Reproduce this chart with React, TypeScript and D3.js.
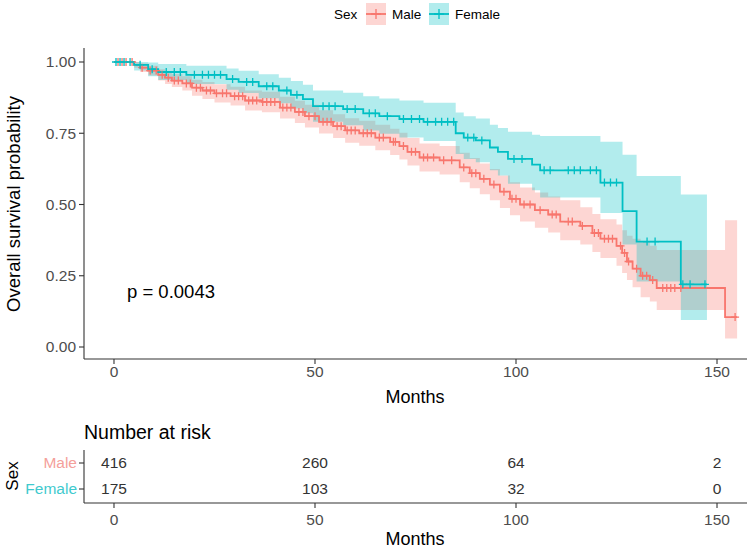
import * as d3 from 'd3';
import React from 'react';

// Kaplan-Meier estimates (months, survival, CI)
const maleTime = [0, 5, 6.5, 8.5, 11, 12.7, 14.4, 17, 19.4, 22, 25, 29, 32.6, 36.8, 41.3, 45, 47.5, 51, 54.5, 57.5, 61, 65, 68.7, 71, 73, 76, 81, 86, 88.5, 91, 93.5, 96, 98.5, 101, 104.7, 108, 111, 116, 119, 121, 125, 126.4, 127.6, 129, 131, 133.3, 135, 152];
const maleSurv = [1, 0.99, 0.98, 0.97, 0.955, 0.945, 0.935, 0.925, 0.91, 0.9, 0.89, 0.88, 0.865, 0.86, 0.84, 0.825, 0.81, 0.79, 0.775, 0.76, 0.75, 0.735, 0.72, 0.705, 0.685, 0.665, 0.655, 0.63, 0.61, 0.59, 0.57, 0.545, 0.52, 0.5, 0.48, 0.465, 0.44, 0.425, 0.4, 0.38, 0.355, 0.33, 0.3, 0.275, 0.25, 0.235, 0.207, 0.105];
const maleLower = [1, 0.98, 0.965, 0.953, 0.935, 0.923, 0.912, 0.9, 0.882, 0.87, 0.858, 0.847, 0.83, 0.824, 0.802, 0.786, 0.77, 0.749, 0.733, 0.717, 0.706, 0.69, 0.674, 0.658, 0.637, 0.616, 0.605, 0.578, 0.557, 0.536, 0.515, 0.488, 0.462, 0.44, 0.418, 0.402, 0.375, 0.36, 0.333, 0.312, 0.285, 0.26, 0.235, 0.21, 0.175, 0.16, 0.13, 0.03];
const maleUpper = [1, 1, 0.995, 0.987, 0.975, 0.967, 0.958, 0.95, 0.938, 0.93, 0.922, 0.913, 0.9, 0.896, 0.878, 0.864, 0.85, 0.831, 0.817, 0.803, 0.794, 0.78, 0.766, 0.752, 0.733, 0.714, 0.705, 0.682, 0.663, 0.644, 0.625, 0.602, 0.578, 0.56, 0.542, 0.528, 0.515, 0.49, 0.467, 0.448, 0.43, 0.41, 0.39, 0.38, 0.37, 0.355, 0.34, 0.445];
const maleEnd = 155;
const maleCensor = [1, 2, 3, 4.5, 7, 9, 10.5, 12, 13.5, 15, 16, 18, 19, 20.5, 21.5, 23, 24, 25.5, 27, 28, 30, 31, 32, 33.5, 34.5, 35.5, 37, 38, 39, 40, 42, 43, 44, 46, 47, 48.5, 50, 52, 53, 54, 55.5, 56.5, 58, 59, 60, 62, 63, 64, 66, 67, 69.5, 70, 72, 74, 75, 77, 78, 79.5, 82, 84, 87, 89, 90, 92, 94.5, 97, 99, 100, 102, 103.5, 106, 109, 110, 113, 114, 116.5, 119.5, 120.5, 122, 123, 124, 126, 127, 128, 130, 131.5, 132.5, 134, 136.5, 137.5, 138.5, 139.5, 141, 154.5];

const femaleTime = [0, 5, 8.5, 11, 18, 28, 31, 36, 41, 44, 47, 49.5, 57, 62, 66, 71, 77, 85, 87, 90, 93.5, 95.5, 98, 104, 106, 121, 126.5, 130, 141];
const femaleSurv = [1, 0.99, 0.975, 0.965, 0.955, 0.94, 0.93, 0.915, 0.9, 0.885, 0.87, 0.845, 0.835, 0.82, 0.81, 0.8, 0.79, 0.75, 0.735, 0.725, 0.7, 0.685, 0.66, 0.64, 0.62, 0.577, 0.477, 0.37, 0.22];
const femaleLower = [1, 0.97, 0.95, 0.937, 0.923, 0.903, 0.891, 0.873, 0.855, 0.837, 0.82, 0.79, 0.778, 0.76, 0.748, 0.735, 0.723, 0.677, 0.66, 0.648, 0.62, 0.602, 0.573, 0.55, 0.525, 0.47, 0.36, 0.23, 0.095];
const femaleUpper = [1, 1, 0.998, 0.993, 0.987, 0.977, 0.969, 0.957, 0.945, 0.933, 0.92, 0.9, 0.892, 0.88, 0.872, 0.865, 0.857, 0.823, 0.81, 0.802, 0.78, 0.768, 0.755, 0.745, 0.74, 0.72, 0.675, 0.6, 0.535];
const femaleEnd = 147.5;
const femaleCensor = [0.5, 1.5, 2.5, 4, 6.5, 9.5, 13, 15, 16.5, 20, 22, 23.5, 25, 26.5, 29.5, 33, 34.5, 38, 39.5, 43, 45.5, 52, 53.5, 55, 58, 60, 63.5, 65, 68, 72, 74, 76, 78, 80, 81.5, 83, 84.5, 88, 89.5, 91.5, 99.5, 101.5, 107, 108.5, 113, 114.5, 116, 118.5, 120, 122, 123.5, 125, 132.6, 134.6, 141.5, 143.3, 147];

const riskTimes = [0, 50, 100, 150];
const maleRisk = [416, 260, 64, 2];
const femaleRisk = [175, 103, 32, 0];

const xTicks = [0, 50, 100, 150];
const yTicks = [0, 0.25, 0.5, 0.75, 1];
const groups = ['Male', 'Female'];
const pText = 'p = 0.0043';

const RED = '#F8766D';
const TEAL = '#00BFC4';
const FONT = '"Liberation Sans", Arial, Helvetica, sans-serif';

const series = [
  { name: 'Male', color: RED, time: maleTime, surv: maleSurv, lower: maleLower, upper: maleUpper, end: maleEnd, censor: maleCensor },
  { name: 'Female', color: TEAL, time: femaleTime, surv: femaleSurv, lower: femaleLower, upper: femaleUpper, end: femaleEnd, censor: femaleCensor },
];

const x = d3.scaleLinear().domain([-7.46, 157.46]).range([84, 747]);
const y = d3.scaleLinear().domain([0, 1]).range([347, 62]);

type Pt = { t: number; s: number; lo: number; hi: number };

function points(sr: typeof series[number]): Pt[] {
  const pts = sr.time.map((t, i) => ({ t, s: sr.surv[i], lo: sr.lower[i], hi: sr.upper[i] }));
  const last = pts[pts.length - 1];
  pts.push({ ...last, t: sr.end });
  return pts;
}

function survAt(times: number[], surv: number[], t: number) {
  const i = d3.bisectRight(times, t) - 1;
  return surv[Math.max(0, i)];
}

const line = d3.line<Pt>().x((d) => x(d.t)).y((d) => y(d.s)).curve(d3.curveStepAfter);
const band = d3.area<Pt>().x((d) => x(d.t)).y0((d) => y(d.lo)).y1((d) => y(d.hi)).curve(d3.curveStepAfter);

const Plus = ({ cx, cy, color, r = 4 }: { cx: number; cy: number; color: string; r?: number }) => (
  <path d={`M${cx - r},${cy}H${cx + r}M${cx},${cy - r}V${cy + r}`} stroke={color} strokeWidth={1.3} fill="none" />
);

export default function App() {
  const rowY = d3.scalePoint<string>().domain(groups).range([463, 489]);
  const legendItems = [
    { name: 'Male', color: RED, kx: 366, tx: 392 },
    { name: 'Female', color: TEAL, kx: 429, tx: 455 },
  ];
  return (
    <svg width={750} height={549} style={{ position: 'absolute', left: 0, top: 0, background: '#fff' }} fontFamily={FONT}>
      {/* legend */}
      <text x={334} y={19} fontSize={13.5} fill="#000">Sex</text>
      {legendItems.map((it) => (
        <g key={it.name}>
          <rect x={it.kx} y={3} width={20} height={22} fill={it.color} fillOpacity={0.3} />
          <line x1={it.kx} x2={it.kx + 20} y1={14} y2={14} stroke={it.color} strokeWidth={1.8} />
          <Plus cx={it.kx + 10} cy={14} color={it.color} r={5} />
          <text x={it.tx} y={19} fontSize={13.5} fill="#000">{it.name}</text>
        </g>
      ))}

      {/* confidence bands */}
      {series.map((sr) => (
        <path key={sr.name + 'b'} d={band(points(sr)) || ''} fill={sr.color} fillOpacity={0.3} stroke="none" />
      ))}
      {/* survival curves */}
      {series.map((sr) => (
        <path key={sr.name + 'l'} d={line(points(sr)) || ''} fill="none" stroke={sr.color} strokeWidth={1.8} />
      ))}
      {/* censor marks */}
      {series.map((sr) =>
        sr.censor.map((c, i) => (
          <Plus key={sr.name + i} cx={x(c)} cy={y(survAt(sr.time, sr.surv, c))} color={sr.color} />
        )),
      )}

      {/* axes */}
      <line x1={84} x2={84} y1={48} y2={359} stroke="#333" strokeWidth={1.1} />
      <line x1={84} x2={747} y1={359} y2={359} stroke="#333" strokeWidth={1.1} />
      {yTicks.map((t) => (
        <g key={'y' + t}>
          <line x1={79} x2={84} y1={y(t)} y2={y(t)} stroke="#333" strokeWidth={1.1} />
          <text x={76} y={y(t)} dy="0.35em" textAnchor="end" fontSize={15.5} fill="#4D4D4D">{d3.format('.2f')(t)}</text>
        </g>
      ))}
      {xTicks.map((t) => (
        <g key={'x' + t}>
          <line x1={x(t)} x2={x(t)} y1={359} y2={364} stroke="#333" strokeWidth={1.1} />
          <text x={x(t)} y={377} textAnchor="middle" fontSize={15.5} fill="#4D4D4D">{t}</text>
        </g>
      ))}
      <text x={415} y={403} textAnchor="middle" fontSize={18} fill="#000">Months</text>
      <text transform="translate(20,204) rotate(-90)" textAnchor="middle" fontSize={18.5} fill="#000">Overall survival probability</text>
      <text x={127} y={298} fontSize={18.5} fill="#000">{pText}</text>

      {/* risk table */}
      <text x={84} y={439} fontSize={19.5} fill="#000">Number at risk</text>
      <line x1={84} x2={84} y1={450} y2={503} stroke="#333" strokeWidth={1.1} />
      <line x1={84} x2={747} y1={503} y2={503} stroke="#333" strokeWidth={1.1} />
      {groups.map((g, gi) => (
        <g key={'r' + g}>
          <line x1={79} x2={84} y1={rowY(g)} y2={rowY(g)} stroke="#333" strokeWidth={1.1} />
          <text x={77} y={rowY(g)} dy="0.35em" textAnchor="end" fontSize={15.5} fill={gi === 0 ? '#F4A09B' : '#3FCACE'}>{g}</text>
          {riskTimes.map((t, i) => (
            <text key={t} x={x(t)} y={rowY(g)} dy="0.35em" textAnchor="middle" fontSize={15.5} fill="#333">
              {(gi === 0 ? maleRisk : femaleRisk)[i]}
            </text>
          ))}
        </g>
      ))}
      {xTicks.map((t) => (
        <g key={'tx' + t}>
          <line x1={x(t)} x2={x(t)} y1={503} y2={508} stroke="#333" strokeWidth={1.1} />
          <text x={x(t)} y={525} textAnchor="middle" fontSize={15.5} fill="#4D4D4D">{t}</text>
        </g>
      ))}
      <text x={415} y={545} textAnchor="middle" fontSize={18} fill="#000">Months</text>
      <text transform="translate(18,476) rotate(-90)" textAnchor="middle" fontSize={17} fill="#000">Sex</text>
    </svg>
  );
}
